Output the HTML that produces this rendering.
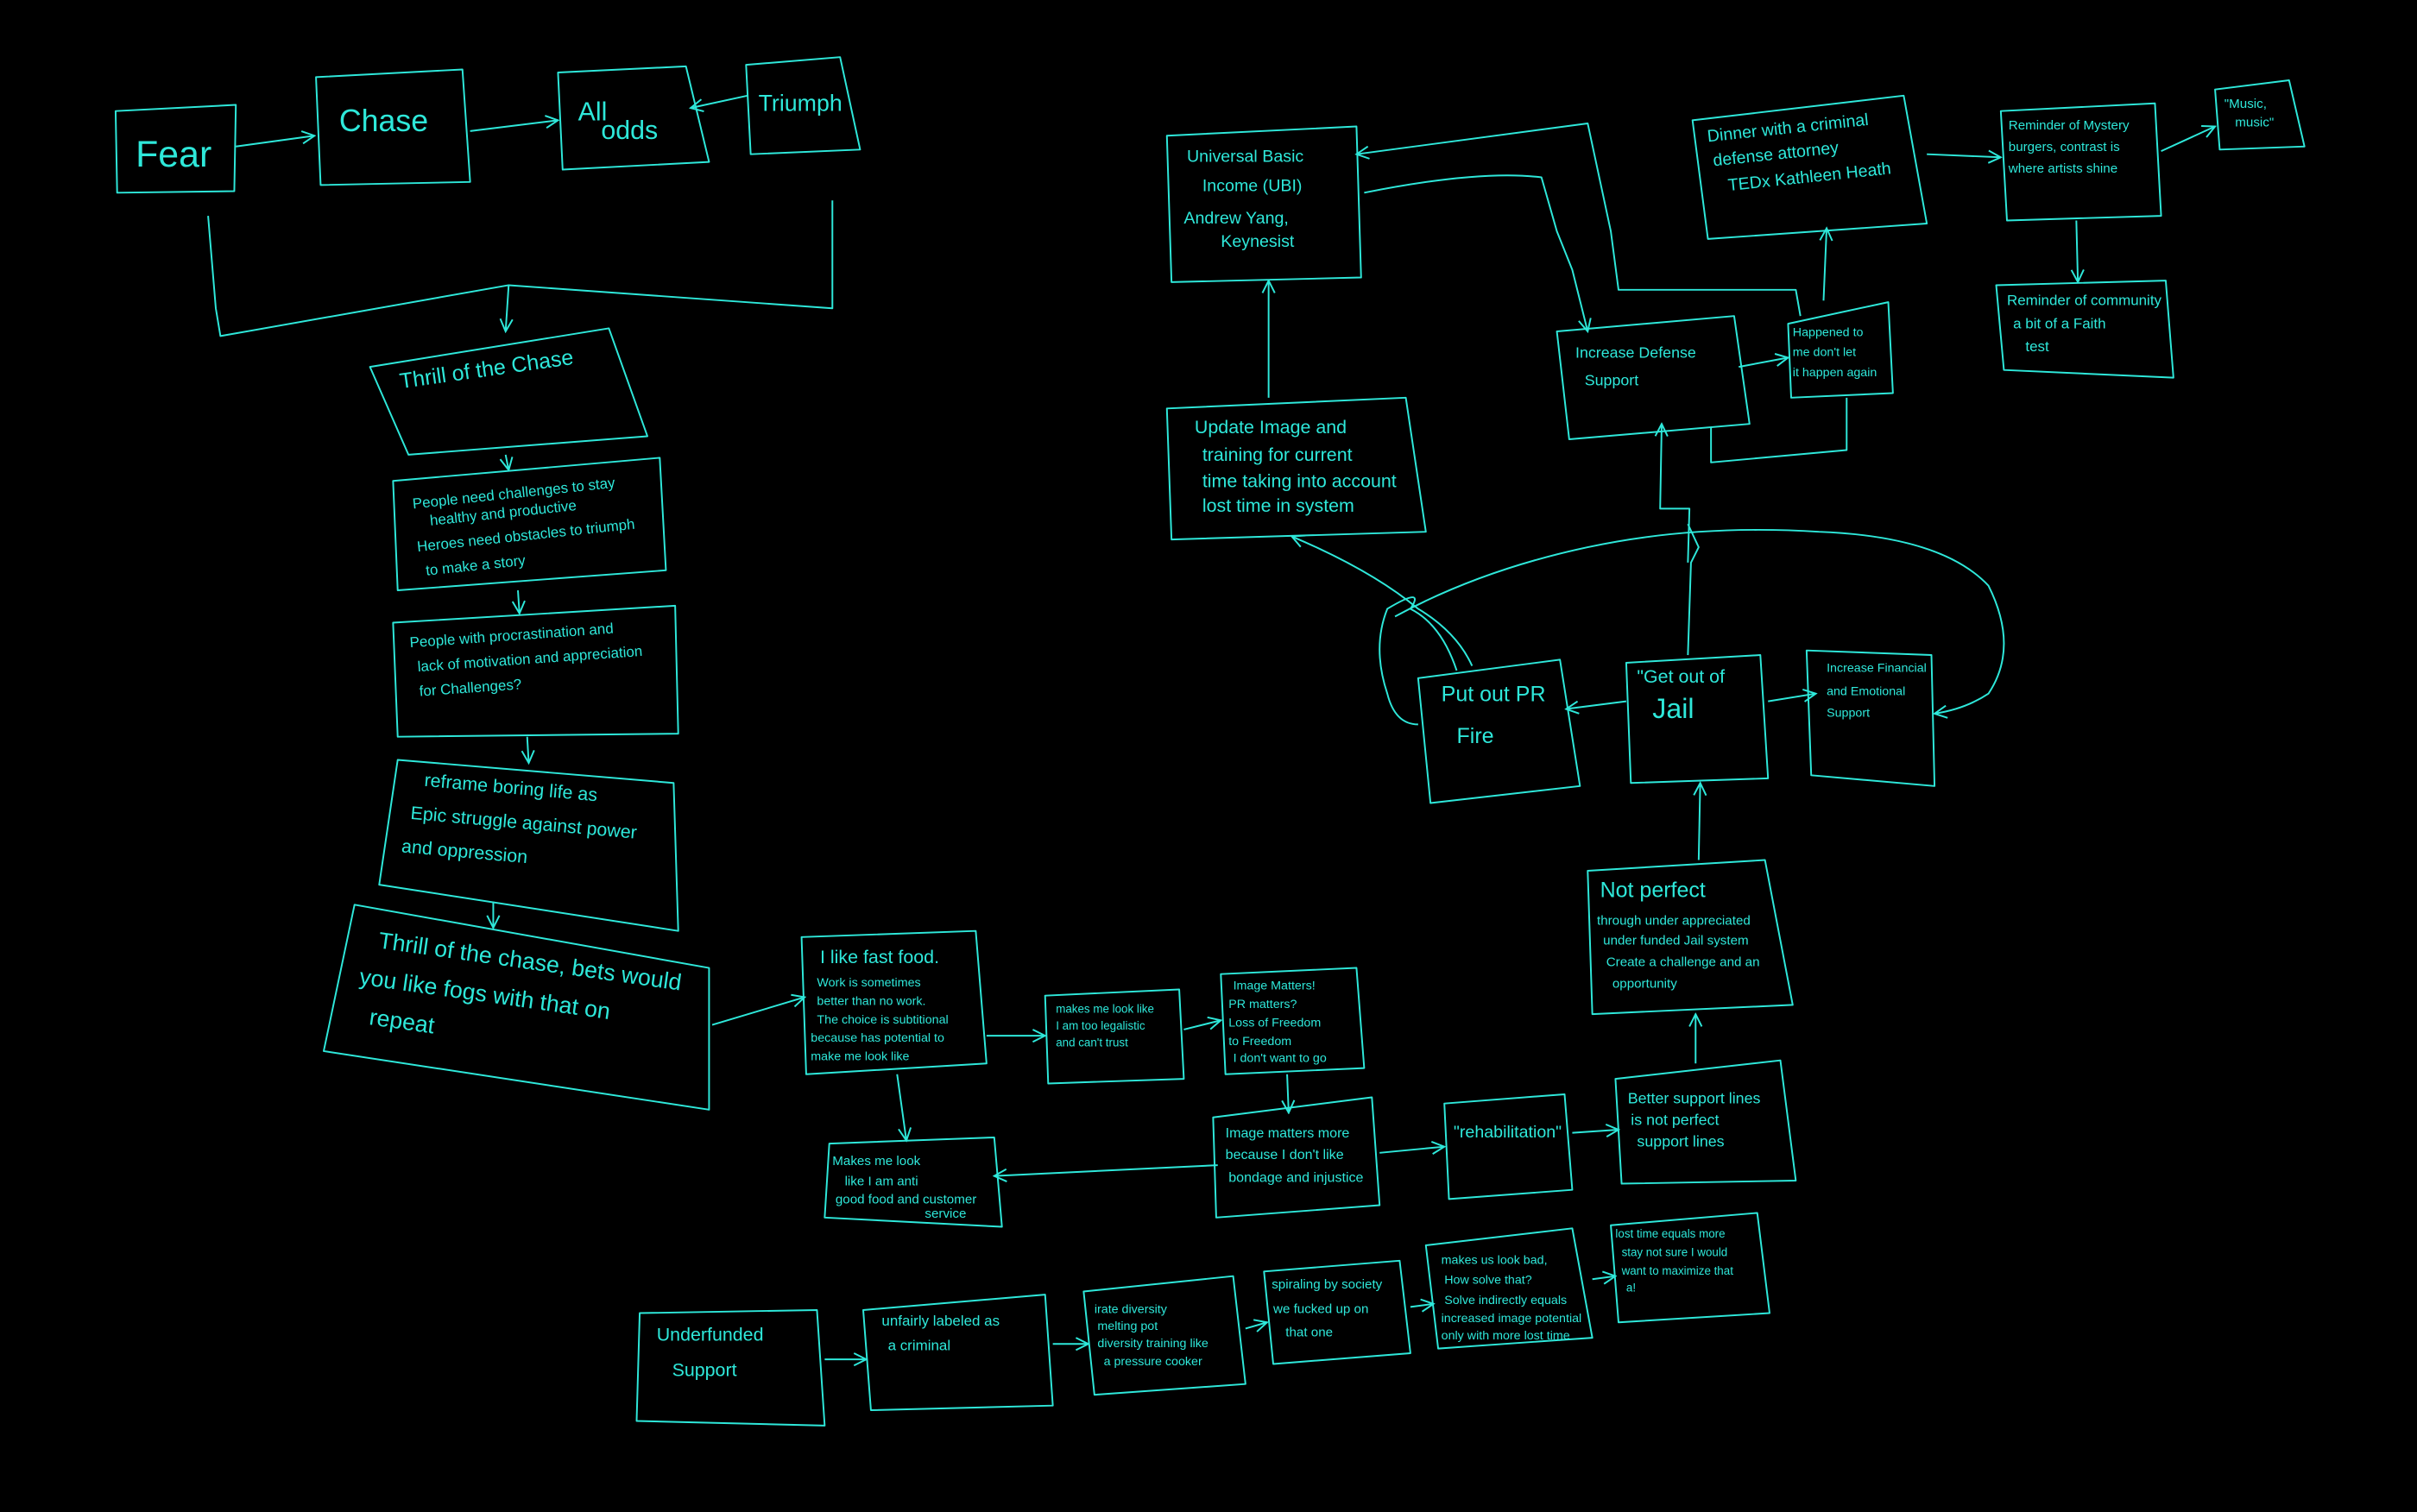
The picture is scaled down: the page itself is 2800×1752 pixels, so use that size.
<!DOCTYPE html>
<html><head><meta charset="utf-8"><style>
html,body{margin:0;padding:0;background:#000;}
svg{display:block;}
text{font-family:"Liberation Sans",sans-serif;fill:#2ee8da;}
</style></head><body>
<svg width="2800" height="1752" viewBox="0 0 1568 981" xmlns="http://www.w3.org/2000/svg">
<defs>
<marker id="a" markerWidth="10" markerHeight="10" refX="9" refY="5" orient="auto" markerUnits="userSpaceOnUse"><path d="M1,1 L9,5 L1,9" fill="none" stroke="#2ee8da" stroke-width="1.1"/></marker>
</defs>
<rect width="1568" height="981" fill="#000"/>
<g fill="none" stroke="#2ee8da" stroke-width="1.1" stroke-linejoin="round">
<path d="M75,72 L153,68 L152,124 L76,125 Z"/>
<path d="M205,50 L300,45 L305,118 L208,120 Z"/>
<path d="M362,47 L445,43 L460,105 L365,110 Z"/>
<path d="M484,42 L545,37 L558,97 L487,100 Z"/>
<path d="M153,95 L204,88" marker-end="url(#a)"/>
<path d="M305,85 L362,78" marker-end="url(#a)"/>
<path d="M485,62 L448,70" marker-end="url(#a)"/>
<path d="M135,140 L140,200 L143,218 L330,185 L540,200 L540,130"/>
<path d="M330,185 L328,215" marker-end="url(#a)"/>
<path d="M240,238 L395,213 L420,283 L265,295 Z"/>
<path d="M328,295 L330,305" marker-end="url(#a)"/>
<path d="M255,312 L428,297 L432,370 L258,383 Z"/>
<path d="M336,383 L337,398" marker-end="url(#a)"/>
<path d="M255,404 L438,393 L440,476 L258,478 Z"/>
<path d="M342,478 L343,495" marker-end="url(#a)"/>
<path d="M258,493 L437,508 L440,604 L246,574 Z"/>
<path d="M320,585 L320,602" marker-end="url(#a)"/>
<path d="M230,587 L460,628 L460,720 L210,682 Z"/>
<path d="M462,665 L522,647" marker-end="url(#a)"/>
<path d="M520,608 L633,604 L640,690 L523,697 Z"/>
<path d="M640,672 L678,672" marker-end="url(#a)"/>
<path d="M678,646 L765,642 L768,700 L680,703 Z"/>
<path d="M768,668 L792,662" marker-end="url(#a)"/>
<path d="M792,632 L880,628 L885,693 L795,697 Z"/>
<path d="M835,697 L836,722" marker-end="url(#a)"/>
<path d="M582,697 L588,740" marker-end="url(#a)"/>
<path d="M538,742 L645,738 L650,796 L535,790 Z"/>
<path d="M790,756 L645,763" marker-end="url(#a)"/>
<path d="M787,725 L890,712 L895,782 L789,790 Z"/>
<path d="M895,748 L937,744" marker-end="url(#a)"/>
<path d="M937,716 L1015,710 L1020,772 L940,778 Z"/>
<path d="M1020,735 L1050,733" marker-end="url(#a)"/>
<path d="M1048,700 L1155,688 L1165,766 L1052,768 Z"/>
<path d="M1100,690 L1100,658" marker-end="url(#a)"/>
<path d="M1030,565 L1145,558 L1163,652 L1033,658 Z"/>
<path d="M1102,558 L1103,508" marker-end="url(#a)"/>
<path d="M920,440 L1012,428 L1025,510 L928,521 Z"/>
<path d="M1055,430 L1142,425 L1147,505 L1058,508 Z"/>
<path d="M1172,422 L1253,425 L1255,510 L1175,503 Z"/>
<path d="M1055,455 L1016,460" marker-end="url(#a)"/>
<path d="M1147,455 L1178,450" marker-end="url(#a)"/>
<path d="M1095,425 L1097,365 L1102,355 L1095,340"/>
<path d="M1095,365 L1096,330 L1077,330 L1078,275" marker-end="url(#a)"/>
<path d="M945,435 Q935,405 915,395 Q925,380 900,395 Q890,420 900,450 Q905,470 920,470"/>
<path d="M955,432 Q945,410 920,395 Q890,370 838,348" marker-end="url(#a)"/>
<path d="M905,400 Q960,370 1030,355 Q1100,340 1180,345 Q1260,348 1290,380 Q1310,420 1290,450 Q1275,460 1255,463" marker-end="url(#a)"/>
<path d="M757,265 L912,258 L925,345 L760,350 Z"/>
<path d="M823,258 L823,182" marker-end="url(#a)"/>
<path d="M757,88 L880,82 L883,180 L760,183 Z"/>
<path d="M885,125 Q960,110 1000,115 L1010,150 L1020,175 L1030,215" marker-end="url(#a)"/>
<path d="M1010,215 L1125,205 L1135,275 L1018,285 Z"/>
<path d="M1128,238 L1160,232" marker-end="url(#a)"/>
<path d="M1110,277 L1110,300 L1198,292 L1198,258"/>
<path d="M1160,210 L1225,196 L1228,255 L1162,258 Z"/>
<path d="M1183,195 L1185,148" marker-end="url(#a)"/>
<path d="M1168,205 L1165,188 L1050,188 L1045,150 L1030,80 L880,100" marker-end="url(#a)"/>
<path d="M1098,78 L1235,62 L1250,145 L1108,155 Z"/>
<path d="M1250,100 L1298,102" marker-end="url(#a)"/>
<path d="M1298,72 L1398,67 L1402,140 L1302,143 Z"/>
<path d="M1402,98 L1437,82" marker-end="url(#a)"/>
<path d="M1437,58 L1485,52 L1495,95 L1440,97 Z"/>
<path d="M1347,143 L1348,183" marker-end="url(#a)"/>
<path d="M1295,185 L1405,182 L1410,245 L1300,240 Z"/>
<path d="M415,852 L530,850 L535,925 L413,922 Z"/>
<path d="M535,882 L562,882" marker-end="url(#a)"/>
<path d="M560,850 L678,840 L683,912 L565,915 Z"/>
<path d="M683,872 L706,872" marker-end="url(#a)"/>
<path d="M703,838 L800,828 L808,898 L710,905 Z"/>
<path d="M808,862 L822,858" marker-end="url(#a)"/>
<path d="M820,825 L908,818 L915,878 L826,885 Z"/>
<path d="M915,848 L930,846" marker-end="url(#a)"/>
<path d="M925,808 L1020,797 L1033,868 L933,875 Z"/>
<path d="M1033,830 L1048,828" marker-end="url(#a)"/>
<path d="M1045,795 L1140,787 L1148,852 L1050,858 Z"/>
</g>
<g>
<text x="88" y="108" font-size="24">Fear</text>
<text x="220" y="85" font-size="20">Chase</text>
<text x="375" y="78" font-size="17">All</text><text x="390" y="90" font-size="17">odds</text>
<text x="492" y="72" font-size="15">Triumph</text>
<text x="260" y="252" font-size="14" transform="rotate(-8 260 252)">Thrill of the Chase</text>
<text font-size="9.5" transform="rotate(-6 268 330)"><tspan x="268" y="330">People need challenges to stay</tspan><tspan x="278" y="342">healthy and productive</tspan><tspan x="268" y="358">Heroes need obstacles to triumph</tspan><tspan x="272" y="374">to make a story</tspan></text>
<text font-size="9.5" transform="rotate(-4 266 420)"><tspan x="266" y="420">People with procrastination and</tspan><tspan x="270" y="436">lack of motivation and appreciation</tspan><tspan x="270" y="452">for Challenges?</tspan></text>
<text font-size="12" transform="rotate(5 275 510)"><tspan x="275" y="510">reframe boring life as</tspan><tspan x="268" y="532">Epic struggle against power</tspan><tspan x="264" y="554">and oppression</tspan></text>
<text font-size="15" transform="rotate(8 245 615)"><tspan x="245" y="615">Thrill of the chase, bets would</tspan><tspan x="236" y="640">you like fogs with that on</tspan><tspan x="246" y="665">repeat</tspan></text>
<text font-size="12" x="532" y="625">I like fast food.</text>
<text font-size="8"><tspan x="530" y="640">Work is sometimes</tspan><tspan x="530" y="652">better than no work.</tspan><tspan x="530" y="664">The choice is subtitional</tspan><tspan x="526" y="676">because has potential to</tspan><tspan x="526" y="688">make me look like</tspan></text>
<text font-size="7.5"><tspan x="685" y="657">makes me look like</tspan><tspan x="685" y="668">I am too legalistic</tspan><tspan x="685" y="679">and can't trust</tspan></text>
<text font-size="8"><tspan x="800" y="642">Image Matters!</tspan><tspan x="797" y="654">PR matters?</tspan><tspan x="797" y="666">Loss of Freedom</tspan><tspan x="797" y="678">to Freedom</tspan><tspan x="800" y="689">I don't want to go</tspan></text>
<text font-size="8.5"><tspan x="540" y="756">Makes me look</tspan><tspan x="548" y="769">like I am anti</tspan><tspan x="542" y="781">good food and customer</tspan><tspan x="600" y="790">service</tspan></text>
<text font-size="9"><tspan x="795" y="738">Image matters more</tspan><tspan x="795" y="752">because I don't like</tspan><tspan x="797" y="767">bondage and injustice</tspan></text>
<text font-size="11" x="943" y="738">"rehabilitation"</text>
<text font-size="10"><tspan x="1056" y="716">Better support lines</tspan><tspan x="1058" y="730">is not perfect</tspan><tspan x="1062" y="744">support lines</tspan></text>
<text font-size="14" x="1038" y="582">Not perfect</text>
<text font-size="8.5"><tspan x="1036" y="600">through under appreciated</tspan><tspan x="1040" y="613">under funded Jail system</tspan><tspan x="1042" y="627">Create a challenge and an</tspan><tspan x="1046" y="641">opportunity</tspan></text>
<text font-size="14"><tspan x="935" y="455">Put out PR</tspan><tspan x="945" y="482">Fire</tspan></text>
<text font-size="12" x="1062" y="443">"Get out of</text>
<text font-size="18" x="1072" y="466">Jail</text>
<text font-size="8"><tspan x="1185" y="436">Increase Financial</tspan><tspan x="1185" y="451">and Emotional</tspan><tspan x="1185" y="465">Support</tspan></text>
<text font-size="10"><tspan x="1022" y="232">Increase Defense</tspan><tspan x="1028" y="250">Support</tspan></text>
<text font-size="8"><tspan x="1163" y="218">Happened to</tspan><tspan x="1163" y="231">me don't let</tspan><tspan x="1163" y="244">it happen again</tspan></text>
<text font-size="12"><tspan x="775" y="281">Update Image and</tspan><tspan x="780" y="299">training for current</tspan><tspan x="780" y="316">time taking into account</tspan><tspan x="780" y="332">lost time in system</tspan></text>
<text font-size="11"><tspan x="770" y="105">Universal Basic</tspan><tspan x="780" y="124">Income (UBI)</tspan><tspan x="768" y="145">Andrew Yang,</tspan><tspan x="792" y="160">Keynesist</tspan></text>
<text font-size="11" transform="rotate(-6 1108 92)"><tspan x="1108" y="92">Dinner with a criminal</tspan><tspan x="1110" y="108">defense attorney</tspan><tspan x="1118" y="125">TEDx Kathleen Heath</tspan></text>
<text font-size="8.5"><tspan x="1303" y="84">Reminder of Mystery</tspan><tspan x="1303" y="98">burgers, contrast is</tspan><tspan x="1303" y="112">where artists shine</tspan></text>
<text font-size="8.5"><tspan x="1443" y="70">"Music,</tspan><tspan x="1450" y="82">music"</tspan></text>
<text font-size="9.5"><tspan x="1302" y="198">Reminder of community</tspan><tspan x="1306" y="213">a bit of a Faith</tspan><tspan x="1314" y="228">test</tspan></text>
<text font-size="12"><tspan x="426" y="870">Underfunded</tspan><tspan x="436" y="893">Support</tspan></text>
<text font-size="9.5"><tspan x="572" y="860">unfairly labeled as</tspan><tspan x="576" y="876">a criminal</tspan></text>
<text font-size="8"><tspan x="710" y="852">irate diversity</tspan><tspan x="712" y="863">melting pot</tspan><tspan x="712" y="874">diversity training like</tspan><tspan x="716" y="886">a pressure cooker</tspan></text>
<text font-size="8.5"><tspan x="825" y="836">spiraling by society</tspan><tspan x="826" y="852">we fucked up on</tspan><tspan x="834" y="867">that one</tspan></text>
<text font-size="8"><tspan x="935" y="820">makes us look bad,</tspan><tspan x="937" y="833">How solve that?</tspan><tspan x="937" y="846">Solve indirectly equals</tspan><tspan x="935" y="858">increased image potential</tspan><tspan x="935" y="869">only with more lost time</tspan></text>
<text font-size="7.5"><tspan x="1048" y="803">lost time equals more</tspan><tspan x="1052" y="815">stay not sure I would</tspan><tspan x="1052" y="827">want to maximize that</tspan><tspan x="1055" y="838">a!</tspan></text>
</g>
</svg>
</body></html>
